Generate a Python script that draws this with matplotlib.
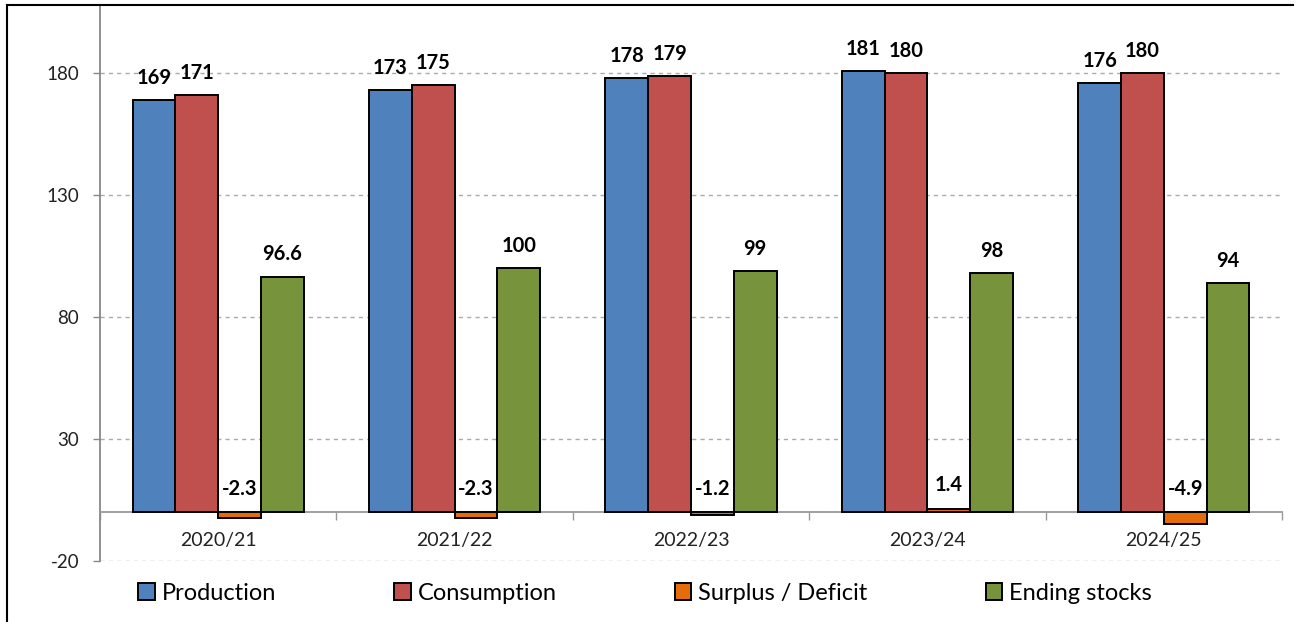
import matplotlib
matplotlib.use("Agg")
import matplotlib.pyplot as plt
from matplotlib.lines import Line2D
from matplotlib.patches import Patch
import numpy as np

categories = ["2020/21", "2021/22", "2022/23", "2023/24", "2024/25"]
production = [169, 173, 178, 181, 176]
consumption = [171, 175, 179, 180, 180]
surplus = [-2.3, -2.3, -1.2, 1.4, -4.9]
ending_stocks = [96.6, 100, 99, 98, 94]
series_names = ["Production", "Consumption", "Surplus / Deficit", "Ending stocks"]
label_text = [
    ["169", "173", "178", "181", "176"],
    ["171", "175", "179", "180", "180"],
    ["-2.3", "-2.3", "-1.2", "1.4", "-4.9"],
    ["96.6", "100", "99", "98", "94"],
]
colors = ["#4F81BD", "#C0504D", "#E46C0A", "#77933C"]
yticks = [-20, 30, 80, 130, 180]

plt.rcParams['font.family'] = ['Lato', 'DejaVu Sans']

W, H = 1298, 622
fig = plt.figure(figsize=(W / 100, H / 100), dpi=100)
ax = fig.add_axes([100 / W, (H - 561) / H, (1282 - 100) / W, (561 - 5) / H])

n = len(categories)
x = np.arange(n)
bw = 0.181
series = [production, consumption, surplus, ending_stocks]
offsets = (np.arange(4) - 1.5) * bw
for i, (vals, c) in enumerate(zip(series, colors)):
    ax.bar(x + offsets[i], vals, width=bw, color=c, edgecolor="black",
           linewidth=1.4, zorder=3)
    for j, v in enumerate(vals):
        if i == 2:
            ytxt = max(v, 0) + 5.5
        else:
            ytxt = v + 5
        ax.text(x[j] + offsets[i], ytxt, label_text[i][j], ha="center",
                va="bottom", fontsize=14.5, fontweight="bold", color="black",
                zorder=5)

ax.set_xlim(-0.5, n - 0.5)
ax.set_ylim(-20, 208)
ax.set_yticks(yticks)
ax.set_yticklabels([str(t) for t in yticks], fontsize=13.5, color="#222222")
ax.yaxis.grid(True, linestyle=(0, (3, 3)), color="#AAAAAA", linewidth=1, zorder=0)
ax.tick_params(axis="y", length=5, width=1, color="#888888", pad=10)

for s in ["top", "right"]:
    ax.spines[s].set_visible(False)
ax.spines["left"].set_color("#888888")
ax.spines["left"].set_linewidth(1.3)
ax.spines["bottom"].set_position(("data", 0))
ax.spines["bottom"].set_color("#999999")
ax.spines["bottom"].set_linewidth(1.3)

ax.set_xticks(np.arange(n + 1) - 0.5)
ax.set_xticklabels([""] * (n + 1))
ax.tick_params(axis="x", which="major", length=6, width=1, color="#999999")
ax.set_xticks(x, minor=True)
ax.set_xticklabels(categories, minor=True, fontsize=14, color="#222222")
ax.tick_params(axis="x", which="minor", length=0, pad=14)

handles = [Patch(facecolor=c, edgecolor="black", linewidth=1.4) for c in colors]
fig.legend(handles, series_names, loc="center", ncol=4,
           bbox_to_anchor=(645 / W, 1 - 593 / H), frameon=False,
           fontsize=17, handlelength=0.7, handleheight=0.7,
           handletextpad=0.3, columnspacing=5.0)

fig.add_artist(Line2D([7 / W, 1293 / W], [1 - 5 / H, 1 - 5 / H],
                      transform=fig.transFigure, color="black", linewidth=1.5))
fig.add_artist(Line2D([7 / W, 7 / W], [1 - 5 / H, 0],
                      transform=fig.transFigure, color="black", linewidth=1.5))

fig.savefig("out.png", dpi=100)
